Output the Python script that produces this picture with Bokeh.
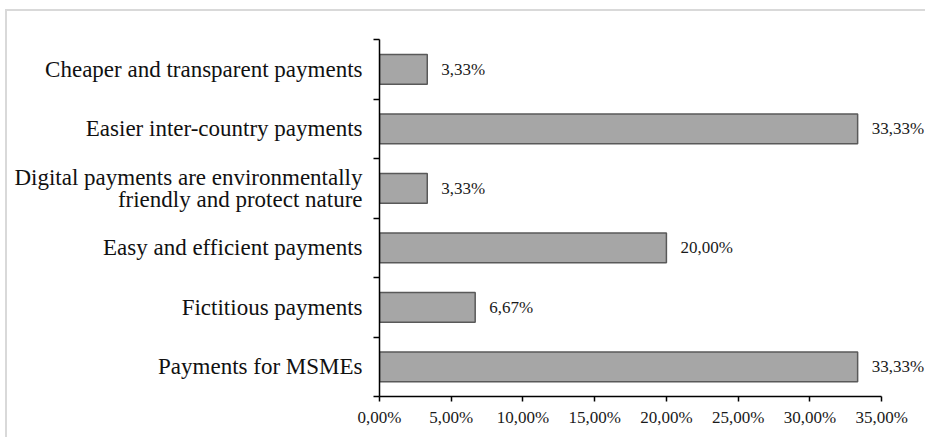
from bokeh.plotting import figure
from bokeh.models import Range1d, FixedTicker, ColumnDataSource
from bokeh.core.properties import value
from bokeh.embed import file_html
from bokeh.resources import INLINE

# Data (top to bottom as in the chart)
categories = [
    "Cheaper and transparent payments",
    "Easier inter-country payments",
    "Digital payments are environmentally\nfriendly and protect nature",
    "Easy and efficient payments",
    "Fictitious payments",
    "Payments for MSMEs",
]
values = [3.33, 33.33, 3.33, 20.00, 6.67, 33.33]
x_ticks = [0, 5, 10, 15, 20, 25, 30, 35]
x_tick_labels = ["0,00%", "5,00%", "10,00%", "15,00%", "20,00%", "25,00%", "30,00%", "35,00%"]

n = len(categories)
ypos = [n - i - 0.5 for i in range(n)]
labels = [("%.2f" % v).replace(".", ",") + "%" for v in values]

src = ColumnDataSource(dict(y=ypos, v=values, lab=labels))

FONT = "Liberation Serif"

p = figure(width=920, height=428, output_backend="svg", toolbar_location=None,
           x_range=Range1d(0, 38.2), y_range=Range1d(0, n),
           min_border_left=372, min_border_right=0, min_border_top=28, min_border_bottom=43)
p.styles = {"border-left": "2px solid #d9d9d9", "border-top": "2px solid #d9d9d9"}
p.margin = (9, 0, 0, 5)
p.outline_line_color = None
p.grid.visible = False
p.background_fill_color = "white"
p.border_fill_color = "white"

p.hbar(y="y", right="v", left=0, height=0.5, source=src,
       fill_color="#a6a6a6", line_color="#595959", line_width=1.5)

p.text(x="v", y="y", text="lab", source=src, x_offset=14,
       text_align="left", text_baseline="middle",
       text_font=value(FONT), text_font_size="17px", text_color="#1a1a1a")

# x axis
xa = p.xaxis[0]
xa.ticker = FixedTicker(ticks=x_ticks)
xa.major_label_overrides = {t: l for t, l in zip(x_ticks, x_tick_labels)}
xa.bounds = (0, 35)
xa.axis_line_color = "black"
xa.axis_line_width = 1.5
xa.major_tick_in = 0
xa.major_tick_out = 5
xa.major_tick_line_width = 1.5
xa.minor_tick_line_color = None
xa.major_label_text_font = FONT
xa.major_label_text_font_size = "17px"
xa.major_label_text_color = "#1a1a1a"
xa.major_label_standoff = 6

# y axis
ya = p.yaxis[0]
ya.ticker = FixedTicker(ticks=ypos, minor_ticks=list(range(n + 1)))
ya.major_label_overrides = {y: c for y, c in zip(ypos, categories)}
ya.axis_line_color = "black"
ya.axis_line_width = 1.5
ya.major_tick_in = 0
ya.major_tick_out = 0
ya.minor_tick_in = 0
ya.minor_tick_out = 6
ya.minor_tick_line_width = 1.5
ya.minor_tick_line_color = "black"
ya.major_label_text_font = FONT
ya.major_label_text_font_size = "23px"
ya.major_label_text_color = "#111111"
ya.major_label_text_line_height = 0.9
ya.major_label_standoff = 11

open("out.html", "w").write(file_html(p, INLINE))
